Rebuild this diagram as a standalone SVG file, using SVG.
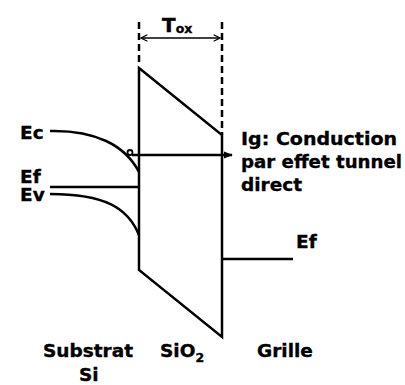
<svg xmlns="http://www.w3.org/2000/svg" width="405" height="385" viewBox="0 0 405 385">
<style>
.ln{fill:none;stroke:#000;stroke-width:2.5}
.ds{fill:none;stroke:#000;stroke-width:2.5;stroke-dasharray:7 4}
.tx{font-family:"DejaVu Sans",Verdana,sans-serif;font-weight:bold;font-size:18.5px;fill:#000;stroke:#000;stroke-width:0.35}
.sb{font-size:12.5px}
</style>
<defs>
<marker id="open" viewBox="0 0 10 10" refX="9" refY="5" markerWidth="8" markerHeight="8" markerUnits="userSpaceOnUse" orient="auto-start-reverse">
<path d="M1,1 L9,5 L1,9" fill="none" stroke="#000" stroke-width="1.5"/>
</marker>
<marker id="fill" viewBox="0 0 10 10" refX="9" refY="5" markerWidth="9" markerHeight="9" markerUnits="userSpaceOnUse" orient="auto">
<path d="M0,1 L10,5 L0,9 Z" fill="#000"/>
</marker>
</defs>
<g id="oxide">
<path class="ds" d="M139,22 V66"/>
<path class="ds" d="M222,22 V135"/>
<path class="ln" d="M139,68 L222,135 V337 L139,270 Z"/>
</g>
<g id="substrat">
<path class="ln" d="M50,131 C95,130 125,145 139,172"/>
<path class="ln" d="M50,187 H139"/>
<path class="ln" d="M50,194 C105,194 128,208 139,235"/>
<circle cx="130" cy="152.5" r="2.5" fill="none" stroke="#000" stroke-width="1.8"/>
</g>
<g id="grille">
<path class="ln" d="M222,259 H293"/>
</g>
<g id="connectors">
<path d="M141,38 H220" fill="none" stroke="#000" stroke-width="1.5" marker-start="url(#open)" marker-end="url(#open)"/>
<path d="M132,155 H232" fill="none" stroke="#000" stroke-width="2.5" marker-end="url(#fill)"/>
</g>
<g id="labels">
<text class="tx" x="162" y="32" style="font-size:20px">T<tspan class="sb" dy="1">ox</tspan></text>
<text class="tx" x="20" y="139">Ec</text>
<text class="tx" x="20" y="183">Ef</text>
<text class="tx" x="20" y="201">Ev</text>
<text class="tx" x="241" y="145" textLength="156" lengthAdjust="spacingAndGlyphs">Ig: Conduction</text>
<text class="tx" x="241" y="168" textLength="161" lengthAdjust="spacingAndGlyphs">par effet tunnel</text>
<text class="tx" x="241" y="191">direct</text>
<text class="tx" x="296" y="248">Ef</text>
<text class="tx" x="43" y="357">Substrat</text>
<text class="tx" x="79" y="381">Si</text>
<text class="tx" x="160" y="357">SiO<tspan class="sb" dy="5">2</tspan></text>
<text class="tx" x="257" y="357">Grille</text>
</g>
</svg>
